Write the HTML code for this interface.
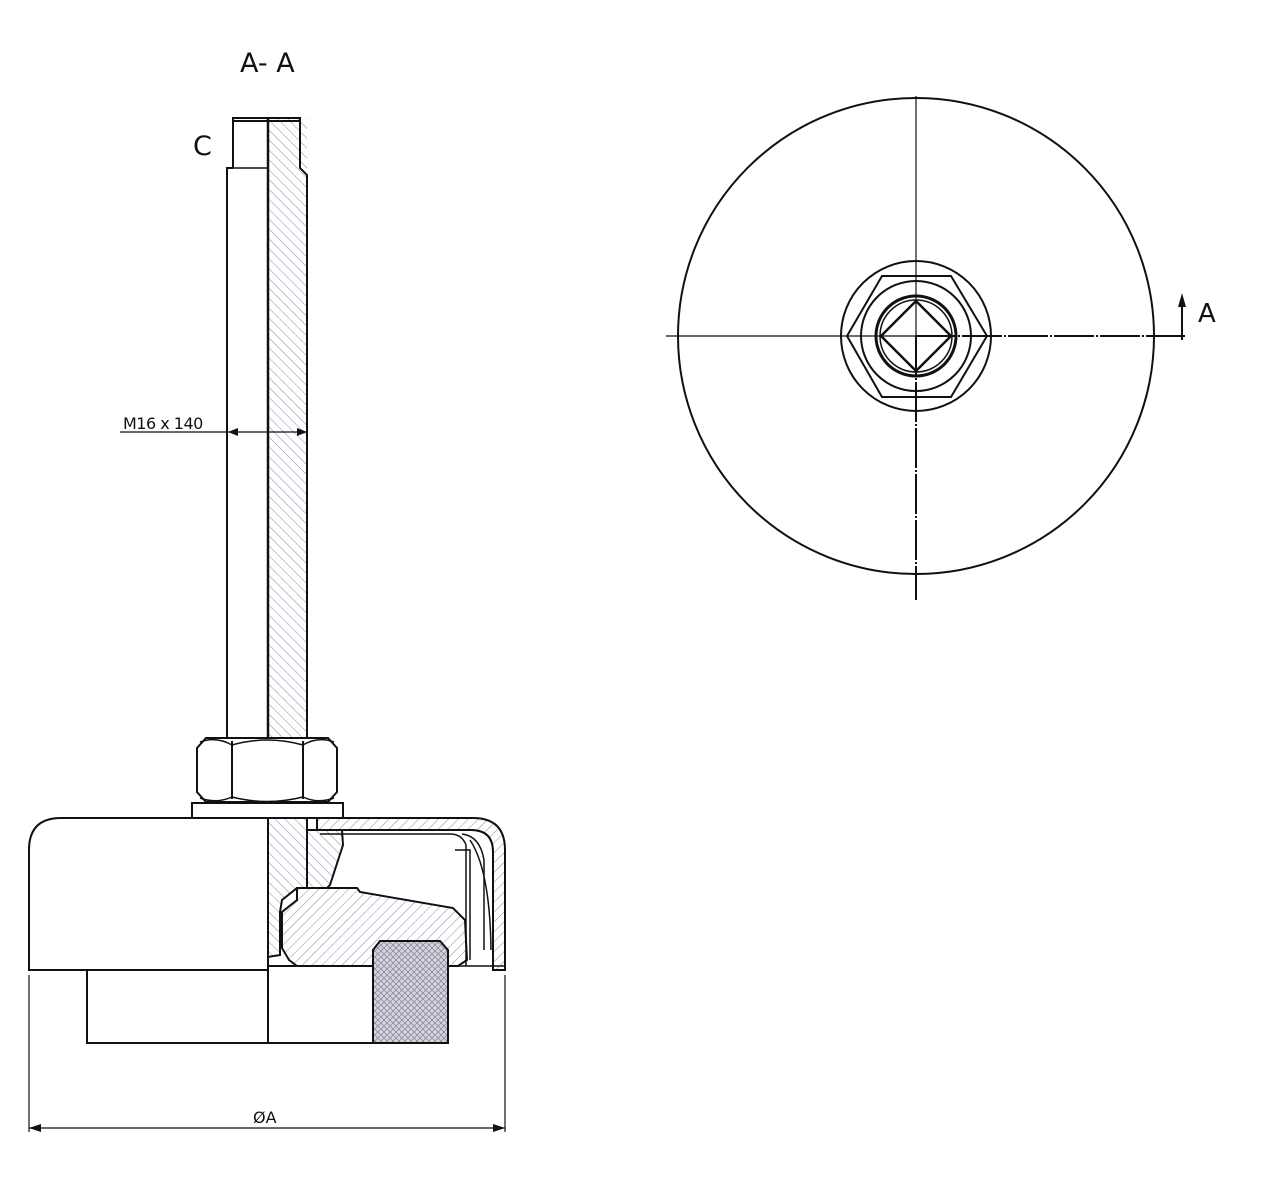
<!DOCTYPE html>
<html><head><meta charset="utf-8"><style>
html,body{margin:0;padding:0;background:#fff}
svg{display:block}
text{font-family:"DejaVu Sans","Liberation Sans",sans-serif;fill:#111}
</style></head><body>
<svg width="1280" height="1177" viewBox="0 0 1280 1177" xmlns="http://www.w3.org/2000/svg">
<defs>
<pattern id="h1" width="7" height="7" patternUnits="userSpaceOnUse" patternTransform="rotate(45)">
<line x1="0" y1="0" x2="0" y2="7" stroke="#8a8aa8" stroke-width="1"/></pattern>
<pattern id="h2" width="7" height="7" patternUnits="userSpaceOnUse" patternTransform="rotate(-45)">
<line x1="0" y1="0" x2="0" y2="7" stroke="#8a8aa8" stroke-width="1"/></pattern>
<pattern id="x" width="6" height="6" patternUnits="userSpaceOnUse">
<rect width="6" height="6" fill="#d6d6de"/>
<path d="M0 6L6 0M0 0L6 6" stroke="#8a8a9c" stroke-width="0.8"/></pattern>
</defs>
<text x="240" y="72" font-size="27">A- A</text>
<text x="193" y="155" font-size="27">C</text>
<text x="1198" y="322" font-size="26">A</text>
<text x="123" y="429" font-size="16" style="letter-spacing:-0.5px">M16 x 140</text>
<text x="253" y="1123" font-size="16">ØA</text>

<g fill="none" stroke="#111" stroke-width="2">
<!-- rod -->
<rect x="268" y="118" width="39" height="620" fill="url(#h2)" stroke="none"/>
<path d="M233 168V118H300V168L307 175V738"/>
<path d="M233 168H227V738"/>
<path d="M233 121H300"/>
<path d="M268 118V818" stroke-width="2.5"/>
<path d="M230 168H268" stroke-width="1.5"/>
<!-- dimension M16 -->
<path d="M120 432H307" stroke-width="1.2"/>
<path d="M228 432l10-4v8z M307 432l-10-4v8z" fill="#111" stroke="none"/>
<!-- nut -->
<path d="M206 738H328L337 748V792L328 802H206L197 792V748Z" fill="#fff"/>
<path d="M232 741V799M303 741V799"/>
<path d="M200 742Q216 736 232 745Q267 735 303 745Q318 736 334 742M200 798Q216 804 232 797Q267 806 303 797Q318 804 334 798" stroke-width="1.5"/>
<!-- washer -->
<rect x="192" y="803" width="151" height="15" fill="#fff"/>
<!-- base cap left -->
<path d="M29 970V850Q29 818 61 818H268V970Z"/>
<path d="M87 970V1043H268"/>
<path d="M268 970V1043"/>
<path d="M268 966H373M268 1043H373"/>
<!-- hatched shell -->
<path d="M307 818H473Q505 818 505 850V970H493V852Q493 830 471 830H317V818Z" fill="url(#h1)"/>
<!-- insert under rod -->
<path d="M307 830H342L343 845L330 885L327 888H307Z" fill="url(#h2)"/>
<!-- rod continuation in base -->
<path d="M268 818H307V888H297L282 900L280 912V955L268 957Z" fill="url(#h2)"/>
<!-- inner body -->
<path d="M297 888H357L360 892L453 908L465 920L467 960L458 966H297L289 960L282 948V912L297 900Z" fill="url(#h1)"/>
<!-- inner liners -->
<path d="M320 834H450Q462 834 466 845V966" stroke-width="1.5"/>
<path d="M455 850H470V960" stroke-width="1.5"/>
<path d="M462 834Q480 836 484 860V950" stroke-width="1.5"/>
<path d="M470 840Q490 870 491 950" stroke-width="1.5"/>
<path d="M455 966H505" stroke-width="1.5"/>
<!-- pad -->
<path d="M380 941H440L448 950V1043H373V950Z" fill="url(#x)"/>
<!-- ØA dimension -->
<path d="M29 975V1132M505 975V1132" stroke-width="1.2"/>
<path d="M29 1128H505" stroke-width="1.2"/>
<path d="M29 1128l12-4v8z M505 1128l-12-4v8z" fill="#111" stroke="none"/>

<!-- right view -->
<circle cx="916" cy="336" r="238"/>
<circle cx="916" cy="336" r="75"/>
<path d="M882 276H951L987 336L951 397H882L847 336Z"/>
<circle cx="916" cy="336" r="55"/>
<circle cx="916" cy="336" r="40" stroke-width="3"/>
<circle cx="916" cy="336" r="36" stroke-width="1.5"/>
<path d="M916 301L951 336L916 371L881 336Z" stroke-width="2.5"/>
<path d="M666 336H916" stroke-width="1.2"/>
<path d="M916 336H1185" stroke-width="2" stroke-dasharray="40 2 2 2"/>
<path d="M916 96V336" stroke-width="1.2"/>
<path d="M916 336V600" stroke-width="2" stroke-dasharray="40 2 2 2"/>
<path d="M1182 340V300" stroke-width="2"/>
<path d="M1182 293l-4 14h8z" fill="#111" stroke="none"/>
</g>
</svg>
</body></html>
